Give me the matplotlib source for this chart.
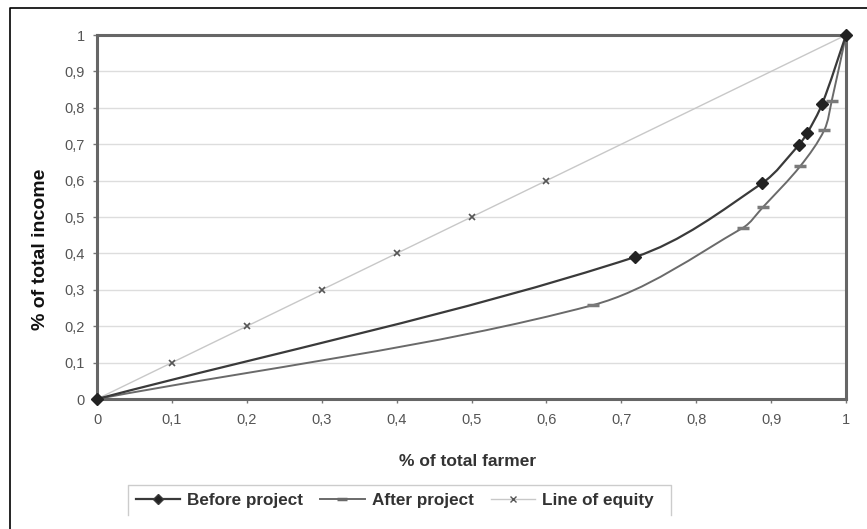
import numpy as np
import matplotlib
matplotlib.use("Agg")
import matplotlib.pyplot as plt
from matplotlib.path import Path
from matplotlib.patches import PathPatch
from matplotlib.lines import Line2D
from matplotlib.ticker import FuncFormatter

plt.rcParams['font.family'] = ['Liberation Sans', 'DejaVu Sans']

# share of farmers (x) vs share of income (y)
before_x = [0, 0.718, 0.888, 0.937, 0.948, 0.968, 1]
before_y = [0, 0.39, 0.593, 0.698, 0.73, 0.81, 1]

after_x = [0, 0.662, 0.862, 0.889, 0.939, 0.971, 0.981, 1]
after_y = [0, 0.258, 0.47, 0.527, 0.64, 0.739, 0.82, 1]

equity_x = [0, 0.1, 0.2, 0.3, 0.4, 0.5, 0.6, 1]
equity_y = [0, 0.1, 0.2, 0.3, 0.4, 0.5, 0.6, 1]

ticks = [0, 0.1, 0.2, 0.3, 0.4, 0.5, 0.6, 0.7, 0.8, 0.9, 1]


def smooth_path(xs, ys, sx=749.0, sy=364.0):
    # smoothed line as cubic bezier segments (chord-length tangents)
    pts = np.column_stack([xs, ys]).astype(float)
    scr = pts * [sx, sy]
    d = np.hypot(*np.diff(scr, axis=0).T)
    t = np.concatenate([[0], np.cumsum(d)])
    n = len(pts)
    m = np.zeros_like(pts)
    for i in range(n):
        a, b = max(i - 1, 0), min(i + 1, n - 1)
        m[i] = (pts[b] - pts[a]) / (t[b] - t[a])
    verts = [pts[0]]
    codes = [Path.MOVETO]
    for i in range(n - 1):
        h = (t[i + 1] - t[i]) / 3
        verts += [pts[i] + m[i] * h, pts[i + 1] - m[i + 1] * h, pts[i + 1]]
        codes += [Path.CURVE4] * 3
    return Path(verts, codes)


fig = plt.figure(figsize=(8.67, 5.29), dpi=100)
ax = fig.add_axes([0.1119, 0.2457, 0.8639, 0.6881])

ax.set_xlim(0, 1)
ax.set_ylim(0, 1)
ax.set_xticks(ticks)
ax.set_yticks(ticks)
fmt = FuncFormatter(lambda v, p: ('%g' % round(v, 1)).replace('.', ','))
ax.xaxis.set_major_formatter(fmt)
ax.yaxis.set_major_formatter(fmt)
ax.tick_params(colors='#777777', labelcolor='#555555', labelsize=10.5, length=3, width=1)
ax.tick_params(axis='x', pad=7)
ax.tick_params(axis='y', pad=6)
ax.grid(axis='y', color='#dddddd', linewidth=1)
ax.set_axisbelow(True)
for s in ax.spines.values():
    s.set_color('#666666')
    s.set_linewidth(2.2)

# line of equity
ax.plot(equity_x, equity_y, color='#c8c8c8', linewidth=1, zorder=2)
ax.plot(equity_x, equity_y, linestyle='none', marker='x', markersize=4,
        markeredgewidth=1.2, color='#555555', zorder=3)

# after project
ax.add_patch(PathPatch(smooth_path(after_x, after_y), fill=False,
                       edgecolor='#6a6a6a', linewidth=1.4, zorder=4))
ax.plot(after_x, after_y, linestyle='none', marker='_', markersize=8,
        markeredgewidth=2.5, color='#7a7a7a', zorder=5)

# before project
ax.add_patch(PathPatch(smooth_path(before_x, before_y), fill=False,
                       edgecolor='#3a3a3a', linewidth=1.6, zorder=6))
ax.plot(before_x, before_y, linestyle='none', marker='D', markersize=6.5,
        color='#222222', zorder=7, clip_on=False)

ax.set_xlabel('% of total farmer', fontsize=12.5, fontweight='bold', color='#333333')
ax.xaxis.set_label_coords(0.495, -0.151)
ax.set_ylabel('% of total income', fontsize=14, fontweight='bold', color='#111111')
ax.yaxis.set_label_coords(-0.064, 0.41)

handles = [
    Line2D([], [], color='#3a3a3a', linewidth=1.6, marker='D', markersize=5, markerfacecolor='#222222'),
    Line2D([], [], color='#6a6a6a', linewidth=1.4, marker='_', markersize=7, markeredgewidth=2.5),
    Line2D([], [], color='#c8c8c8', linewidth=1, marker='x', markersize=4, markeredgecolor='#555555'),
]
leg = fig.legend(handles, ['Before project', 'After project', 'Line of equity'],
                 loc='center left', bbox_to_anchor=(127 / 867, 1 - 500 / 529), ncol=3,
                 frameon=False, borderpad=0, handlelength=2.6, columnspacing=1.0,
                 handletextpad=0.42, prop={'weight': 'bold', 'size': 12.3})
for t in leg.get_texts():
    t.set_color('#333333')

# legend box (bottom edge cut off in original)
lx0, lx1 = 128 / 867, 671 / 867
ly0, ly1 = 1 - 515 / 529, 1 - 485 / 529
fig.add_artist(Line2D([lx0, lx0, lx1, lx1], [ly0, ly1, ly1, ly0],
                      transform=fig.transFigure, color='#cccccc', linewidth=1))

# outer chart frame (left and top)
fx, fy = 10 / 867, 1 - 8 / 529
fig.add_artist(Line2D([fx, fx, 1], [0, fy, fy], transform=fig.transFigure,
                      color='black', linewidth=1.2))

fig.savefig('out.png', dpi=100)
